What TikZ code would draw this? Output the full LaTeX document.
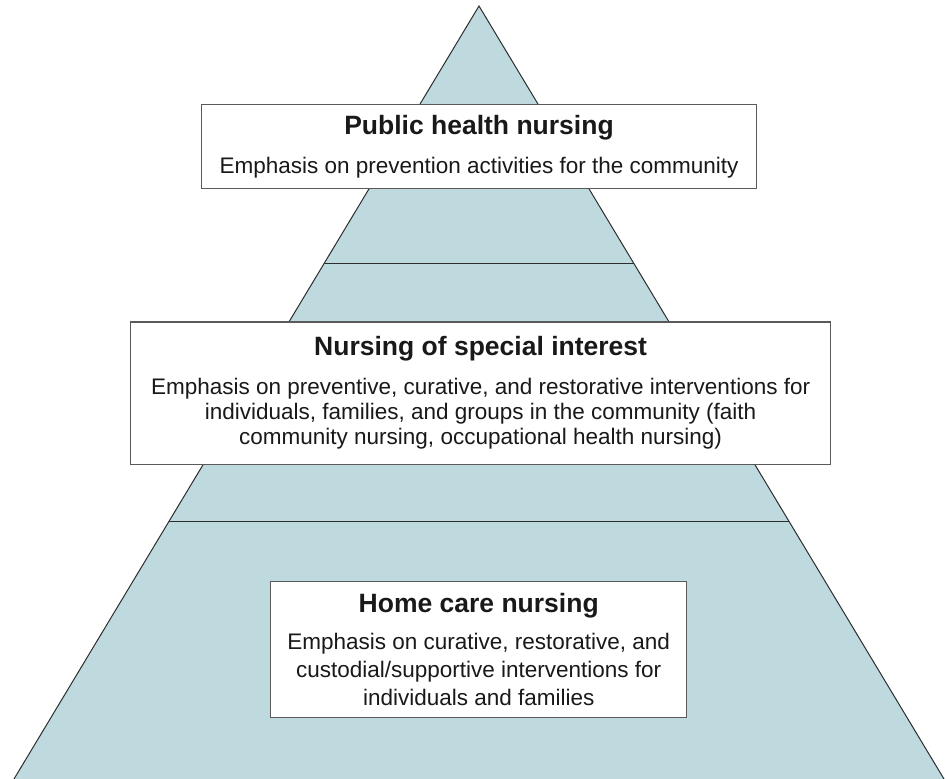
\documentclass[tikz,border=0pt]{standalone}
\usepackage{fontspec}
\setmainfont{Liberation Sans}
\definecolor{pyrfill}{RGB}{190,218,223}
\definecolor{boxline}{RGB}{90,90,90}
\definecolor{edgeline}{RGB}{45,45,45}
\newcommand{\tiername}[1]{{\fontsize{26.5}{30}\selectfont\bfseries #1}}

\begin{document}
\begin{tikzpicture}[x=1pt,y=-1pt,
	tier/.style={draw=boxline, line width=1.4pt, fill=white, align=center, inner sep=0pt, text=black!90, font=\fontsize{22.5}{25}\selectfont}]
	\useasboundingbox (0,0) rectangle (946,779);
	\coordinate (top) at (479,6);
	\coordinate (BL) at (14,779);
	\coordinate (BR) at (944,779);
	\fill[pyrfill] (top) -- (BL) -- (BR) -- cycle;
	\draw[edgeline, line width=1pt] (BL) -- (top) -- (BR);
	\path (top) -- (BL) coordinate[pos=0.3331] (L1) coordinate[pos=0.6671] (L2);
	\path (top) -- (BR) coordinate[pos=0.3331] (R1) coordinate[pos=0.6671] (R2);
	\draw[edgeline, line width=1.5pt] (L1) -- (R1);
	\draw[edgeline, line width=1.5pt] (L2) -- (R2);
	\node (PHN) at (479,146.7)	[tier, minimum width=555pt, minimum height=84pt]	{\tiername{Public health nursing}\\[14pt] Emphasis on prevention activities for the community};
	\node (NSI) at (480.6,393.2)	[tier, minimum width=700pt, minimum height=142.5pt]	{\tiername{Nursing of special interest}\\[14pt] Emphasis on preventive, curative, and restorative interventions for\\ individuals, families, and groups in the community (faith\\ community nursing, occupational health nursing)};
	\node (HCN) at (478.7,649.5)	[tier, minimum width=416pt, minimum height=136.4pt]	{\tiername{Home care nursing}\\[12pt] Emphasis on curative, restorative, and\\[3.3pt] custodial/supportive interventions for\\[3.3pt] individuals and families};
\end{tikzpicture}
\end{document}
